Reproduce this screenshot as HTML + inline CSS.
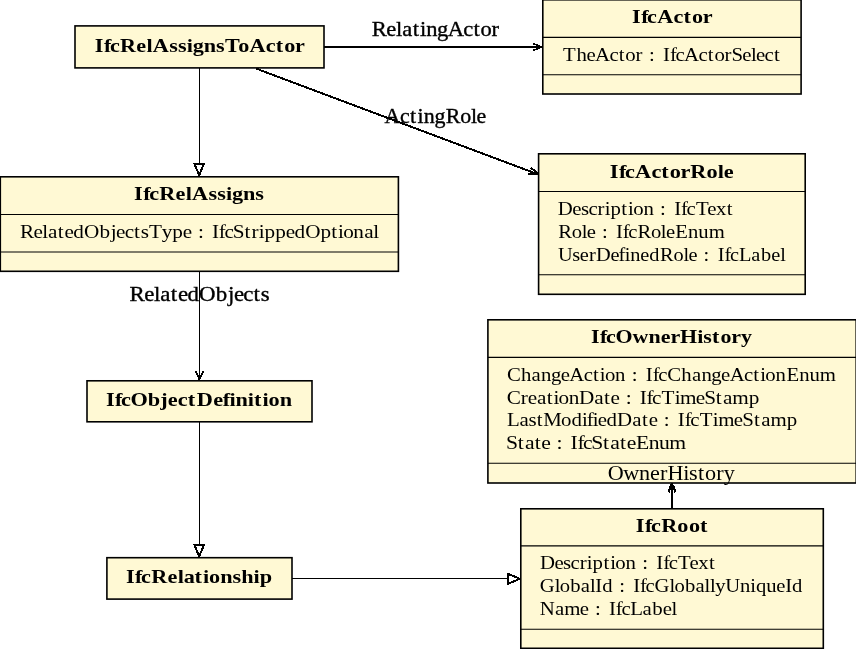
<!DOCTYPE html>
<html><head><meta charset="utf-8"><title>IFC relationship UML diagram</title>
<style>html,body{margin:0;padding:0;background:#fff;width:856px;height:649px;overflow:hidden}
svg{display:block;will-change:transform}
text{font-family:"Liberation Serif",serif;fill:#000}
</style></head><body>
<svg width="856" height="649" viewBox="0 0 856 649">
<line x1="324.00" y1="47.00" x2="540.00" y2="47.00" stroke="#000" stroke-width="2" shape-rendering="crispEdges"/>
<path d="M533.00 50.20 Q537.25 49.56 541.50 47.00 Q537.25 44.44 533.00 43.80" fill="none" stroke="#000" stroke-width="1.8" shape-rendering="crispEdges"/>
<line x1="256.00" y1="68.50" x2="536.00" y2="173.60" stroke="#000" stroke-width="2.0" shape-rendering="crispEdges"/>
<path d="M528.42 173.80 Q532.62 174.70 537.50 173.80 Q534.42 169.91 530.67 167.81" fill="none" stroke="#000" stroke-width="2.1" shape-rendering="crispEdges"/>
<line x1="199.50" y1="67.90" x2="199.50" y2="164.00" stroke="#000" stroke-width="1.0" shape-rendering="crispEdges"/>
<path d="M199.20 175.20 L194.50 164.00 L203.90 164.00 Z" fill="#fff" stroke="#000" stroke-width="2.0" stroke-linejoin="miter" shape-rendering="crispEdges"/>
<line x1="199.50" y1="271.30" x2="199.50" y2="379.00" stroke="#000" stroke-width="1.0" shape-rendering="crispEdges"/>
<path d="M195.70 371.00 Q197.22 375.25 199.50 379.50 Q201.78 375.25 203.30 371.00" fill="none" stroke="#000" stroke-width="1.8" shape-rendering="crispEdges"/>
<line x1="199.50" y1="421.80" x2="199.50" y2="545.00" stroke="#000" stroke-width="1.0" shape-rendering="crispEdges"/>
<path d="M199.20 556.40 L194.50 545.20 L203.90 545.20 Z" fill="#fff" stroke="#000" stroke-width="2.0" stroke-linejoin="miter" shape-rendering="crispEdges"/>
<line x1="292.00" y1="578.50" x2="508.50" y2="578.50" stroke="#000" stroke-width="1.0" shape-rendering="crispEdges"/>
<path d="M519.80 578.80 L508.40 583.60 L508.40 574.00 Z" fill="#fff" stroke="#000" stroke-width="2.0" stroke-linejoin="miter" shape-rendering="crispEdges"/>
<line x1="672.00" y1="508.80" x2="672.00" y2="485.00" stroke="#000" stroke-width="2" shape-rendering="crispEdges"/>
<path d="M675.40 492.50 Q674.72 488.25 672.00 484.00 Q669.28 488.25 668.60 492.50" fill="none" stroke="#000" stroke-width="2.2" shape-rendering="crispEdges"/>
<rect x="75.00" y="25.90" width="249.00" height="42.00" fill="#FFF9D4" stroke="#000" stroke-width="1.6"/>
<text transform="scale(1.1497 1)" x="82.40 90.41 95.59 104.44 118.59 127.49 132.94 147.16 154.73 162.35 167.59 177.27 187.87 195.69 207.18 217.05 231.24 239.87 247.26 256.55" y="52.00" font-size="19.3" font-weight="bold">IfcRelAssignsToActor</text>
<rect x="542.80" y="-0.20" width="258.30" height="94.20" fill="#FFF9D4" stroke="#000" stroke-width="1.6"/>
<line x1="542.80" x2="801.10" y1="37.40" y2="37.40" stroke="#000" stroke-width="1.1"/>
<line x1="542.80" x2="801.10" y1="74.80" y2="74.80" stroke="#000" stroke-width="1.1"/>
<text transform="scale(1.1493 1)" x="549.84 557.85 563.03 571.87 586.06 594.69 602.08 611.38" y="22.90" font-size="19.3" font-weight="bold">IfcActor</text>
<text transform="scale(1.0782 1)" x="522.11 534.70 543.95 551.91 565.22 573.89 580.01 589.46 601.99 602.00 615.02 615.03 621.42 626.54 634.47 647.78 656.45 662.58 672.02 678.35 688.32 696.49 701.17 709.10 717.77" y="60.90" font-size="19.3">TheActor : IfcActorSelect</text>
<rect x="538.60" y="153.80" width="266.60" height="140.50" fill="#FFF9D4" stroke="#000" stroke-width="1.6"/>
<line x1="538.60" x2="805.20" y1="191.50" y2="191.50" stroke="#000" stroke-width="1.1"/>
<line x1="538.60" x2="805.20" y1="274.70" y2="274.70" stroke="#000" stroke-width="1.1"/>
<text transform="scale(1.1564 1)" x="527.32 535.29 540.43 549.20 563.32 571.91 579.24 588.48 596.92 610.94 620.65 625.83" y="178.00" font-size="19.3" font-weight="bold">IfcActorRole</text>
<text transform="scale(1.0791 1)" x="516.96 530.41 538.39 545.35 553.77 560.36 565.78 575.78 582.08 586.84 596.26 611.71 611.72 624.73 624.74 631.13 636.24 645.00 655.46 663.64 673.52" y="215.10" font-size="19.3">Description : IfcText</text>
<text transform="scale(1.0701 1)" x="521.74 534.40 543.62 548.34 562.45 562.46 575.58 575.59 582.04 587.20 595.67 608.33 617.55 622.27 631.04 642.97 652.54 662.21" y="237.95" font-size="19.3">Role : IfcRoleEnum</text>
<text transform="scale(1.0544 1)" x="529.21 542.78 549.89 558.51 565.28 578.99 586.61 592.47 597.73 607.28 615.71 626.04 638.87 648.19 653.01 667.30 667.31 680.64 680.65 687.19 692.44 700.80 712.54 721.79 731.58 739.90" y="260.80" font-size="19.3">UserDefinedRole : IfcLabel</text>
<rect x="0.30" y="176.80" width="398.10" height="94.50" fill="#FFF9D4" stroke="#000" stroke-width="1.6"/>
<line x1="0.30" x2="398.40" y1="214.50" y2="214.50" stroke="#000" stroke-width="1.1"/>
<line x1="0.30" x2="398.40" y1="252.00" y2="252.00" stroke="#000" stroke-width="1.1"/>
<text transform="scale(1.1527 1)" x="116.27 124.26 129.42 138.25 152.36 161.25 166.66 180.86 188.40 196.01 201.23 210.89 221.46" y="200.00" font-size="19.3" font-weight="bold">IfcRelAssigns</text>
<text transform="scale(1.0977 1)" x="18.15 30.56 38.61 43.82 52.72 58.71 66.77 76.45 90.56 100.82 105.77 113.58 122.12 128.20 135.85 147.29 157.00 166.55 180.34 180.35 193.12 193.13 199.40 204.41 212.04 222.66 229.21 235.70 241.00 250.70 260.25 268.32 278.00 291.96 301.82 308.02 312.66 321.91 331.75 340.13" y="237.90" font-size="19.3">RelatedObjectsType : IfcStrippedOptional</text>
<rect x="87.00" y="380.80" width="225.00" height="41.00" fill="#FFF9D4" stroke="#000" stroke-width="1.6"/>
<text transform="scale(1.1556 1)" x="91.65 99.62 104.77 113.00 127.87 138.57 145.18 153.83 162.42 170.26 184.47 192.72 198.64 203.81 214.43 219.74 227.15 232.38 241.98" y="405.90" font-size="19.3" font-weight="bold">IfcObjectDefinition</text>
<rect x="106.90" y="557.70" width="185.10" height="41.40" fill="#FFF9D4" stroke="#000" stroke-width="1.6"/>
<text transform="scale(1.1537 1)" x="109.14 117.12 122.28 131.09 145.20 154.07 159.18 168.58 176.00 181.24 190.86 201.43 209.04 219.65 225.14" y="582.90" font-size="19.3" font-weight="bold">IfcRelationship</text>
<rect x="487.90" y="319.80" width="368.30" height="163.20" fill="#FFF9D4" stroke="#000" stroke-width="1.6"/>
<line x1="487.90" x2="856.20" y1="357.40" y2="357.40" stroke="#000" stroke-width="1.1"/>
<line x1="487.90" x2="856.20" y1="463.30" y2="463.30" stroke="#000" stroke-width="1.1"/>
<text transform="scale(1.1383 1)" x="519.10 527.19 532.43 540.83 555.67 569.69 580.45 588.96 597.30 612.46 617.79 625.50 632.97 642.35 650.88" y="343.00" font-size="19.3" font-weight="bold">IfcOwnerHistory</text>
<text transform="scale(1.0758 1)" x="471.22 484.23 494.15 502.94 512.21 521.23 529.21 542.54 551.23 557.54 562.32 571.77 587.26 587.27 600.32 600.33 606.74 611.87 620.27 633.28 643.20 651.99 661.26 670.28 678.26 691.59 700.28 706.59 711.37 720.82 730.98 742.85 752.37 761.98" y="380.90" font-size="19.3">ChangeAction : IfcChangeActionEnum</text>
<text transform="scale(1.0998 1)" x="460.83 473.53 479.80 488.19 497.08 503.26 507.89 517.12 526.38 540.26 549.15 555.13 568.90 568.91 581.66 581.67 587.94 592.94 601.50 613.46 618.37 632.63 640.27 650.87 657.49 665.84 680.75" y="403.60" font-size="19.3">CreationDate : IfcTimeStamp</text>
<text transform="scale(1.0823 1)" x="468.54 480.00 488.29 495.99 502.03 518.33 528.01 537.72 542.03 547.76 552.30 560.49 570.14 584.21 593.21 599.31 613.27 613.28 626.24 626.25 632.63 637.71 646.46 658.56 663.63 678.06 685.84 696.57 703.32 711.86 726.96" y="426.20" font-size="19.3">LastModifiedDate : IfcTimeStamp</text>
<text transform="scale(1.1211 1)" x="451.42 461.87 468.33 477.08 482.91 496.45 496.46 508.97 508.98 515.12 520.01 527.45 537.91 544.36 553.12 558.95 567.25 578.68 587.82 596.93" y="448.90" font-size="19.3">State : IfcStateEnum</text>
<rect x="520.80" y="508.80" width="302.50" height="139.50" fill="#FFF9D4" stroke="#000" stroke-width="1.6"/>
<line x1="520.80" x2="823.30" y1="545.90" y2="545.90" stroke="#000" stroke-width="1.1"/>
<line x1="520.80" x2="823.30" y1="629.20" y2="629.20" stroke="#000" stroke-width="1.1"/>
<text transform="scale(1.1526 1)" x="551.65 559.64 564.80 573.63 587.69 597.79 607.43" y="532.00" font-size="19.3" font-weight="bold">IfcRoot</text>
<text transform="scale(1.0791 1)" x="500.37 513.83 521.80 528.76 537.18 543.77 549.19 559.19 565.49 570.25 579.67 595.12 595.13 608.14 608.15 614.54 619.65 628.41 638.87 647.06 656.94" y="568.90" font-size="19.3">Description : IfcText</text>
<text transform="scale(1.0689 1)" x="505.06 519.01 523.74 533.53 543.34 551.91 557.00 563.44 579.23 579.24 592.38 592.39 598.84 604.01 612.35 626.29 631.03 640.81 650.62 659.19 664.17 669.08 678.47 692.37 701.96 707.17 716.90 726.20 734.56 741.00" y="591.85" font-size="19.3">GlobalId : IfcGloballyUniqueId</text>
<text transform="scale(1.0803 1)" x="499.75 513.70 522.26 536.71 550.70 550.71 563.71 563.72 570.10 575.21 583.33 594.82 603.85 613.41 621.56" y="614.80" font-size="19.3">Name : IfcLabel</text>
<text transform="scale(1.0780 1)" x="344.76 358.41 367.27 373.06 382.85 389.70 395.45 405.48 415.31 429.75 439.16 445.81 456.06" y="35.60" font-size="20.9" stroke="#000" stroke-width="0.35">RelatingActor</text>
<text transform="scale(1.0496 1)" x="366.31 381.06 390.67 397.69 403.66 413.97 424.62 438.59 448.73 454.00" y="123.10" font-size="20.9" stroke="#000" stroke-width="0.35">ActingRole</text>
<text transform="scale(1.0946 1)" x="118.41 131.89 140.65 146.32 155.99 162.52 171.30 181.84 197.18 208.33 213.73 222.23 231.51 238.13" y="300.80" font-size="20.9" stroke="#000" stroke-width="0.35">RelatedObjects</text>
<text transform="scale(1.0605 1)" x="573.02 587.77 602.63 612.94 622.25 629.49 644.22 649.59 658.09 664.89 675.28 682.57" y="479.60" font-size="20.9">OwnerHistory</text>
</svg>
</body></html>
